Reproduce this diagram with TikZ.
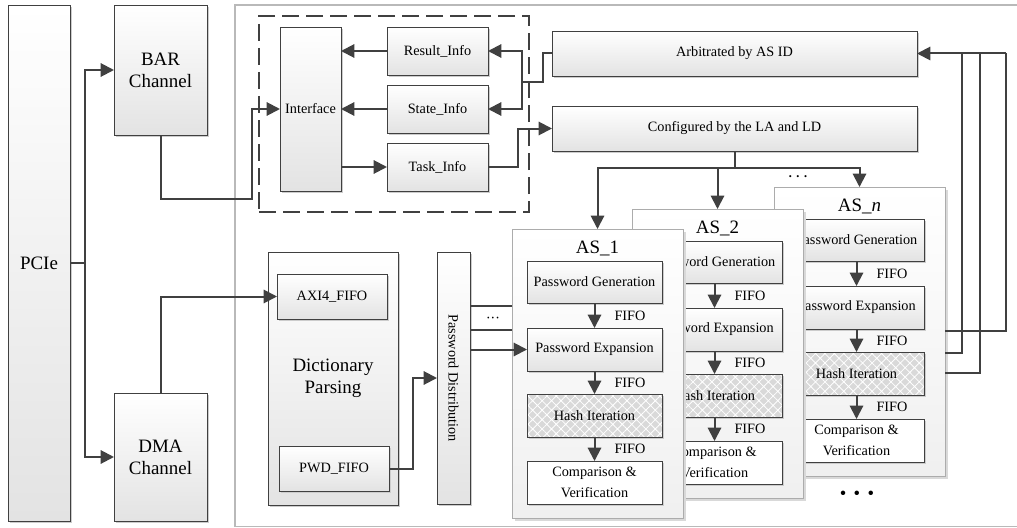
\documentclass[tikz,border=0pt]{standalone}
\usepackage{fontspec}
\setmainfont{Liberation Serif}
\usepackage{graphicx}
\usetikzlibrary{shadows,arrows.meta,patterns.meta}
\definecolor{dk}{RGB}{64,64,64}
\tikzset{
  rect/.style n args={4}{at={({((#1)+(#3))/2},{((#2)+(#4))/2})},minimum width={((#3)-(#1))*0.75pt},minimum height={((#4)-(#2))*0.75pt}},
  shd/.style={drop shadow={shadow xshift=1.5pt,shadow yshift=-1.5pt,fill=gray!40,opacity=1}},
  bx/.style={shd,draw=dk,line width=0.6pt,top color=white,bottom color=gray!22,inner sep=0pt,outer sep=0pt,align=center,text=black},
  wbx/.style={shd,draw=dk,line width=0.6pt,fill=white,inner sep=0pt,outer sep=0pt,align=center},
  hbx/.style={shd,draw=dk,line width=0.6pt,inner sep=0pt,outer sep=0pt,align=center,preaction={fill=gray!30},pattern={Hatch[angle=45,distance=5pt,line width=0.6pt]},pattern color=white},
  asb/.style={drop shadow={shadow xshift=2pt,shadow yshift=-2pt,fill=gray!30,opacity=1},draw=gray!65,line width=0.6pt,top color=white,bottom color=gray!12,inner sep=0pt,outer sep=0pt},
  big/.style={font=\fontsize{14.2}{16.5}\selectfont},
  sm/.style={font=\fontsize{10.7}{16}\selectfont},
  conn/.style={draw=dk,line width=1.5pt},
  arr/.style={conn,-{Triangle[length=10pt,width=10pt]}},
  lbl/.style={inner sep=0pt},
}
\newcommand\asunit[4]{%
 \node[asb,rect={512+#2}{229+#3}{683+#2}{518+#3}] (asf#1) {};
 \node[big,lbl] at ({597.5+#2},{248+#3}) {#4};
 \node[bx,sm,rect={527+#2}{261+#3}{662+#2}{303+#3}] (pg#1) {Password Generation};
 \node[bx,sm,rect={527+#2}{328+#3}{662+#2}{371+#3}] (pe#1) {Password Expansion};
 \node[hbx,sm,rect={527+#2}{394+#3}{662+#2}{437+#3}] (hi#1) {Hash Iteration};
 \node[wbx,sm,rect={527+#2}{461+#3}{662+#2}{504+#3}] (cv#1) {Comparison \&\\Verification};
 \draw[arr] (pg#1) -- (pe#1);
 \draw[arr] (pe#1) -- (hi#1);
 \draw[arr] (hi#1) -- (cv#1);
 \node[sm,lbl] at ({630+#2},{316+#3}) {FIFO};
 \node[sm,lbl] at ({630+#2},{383+#3}) {FIFO};
 \node[sm,lbl] at ({630+#2},{449+#3}) {FIFO};
}
\begin{document}
\begin{tikzpicture}[x=0.75pt,y=-0.75pt]
\useasboundingbox (0,0) rectangle (1017,528);
\clip (0,0) rectangle (1017,528);
\fill[white] (0,0) rectangle (1017,528);
\node[draw=gray!55,line width=0.8pt,inner sep=0pt,rect={235}{5}{1040}{526.5}] (fpga) {};
% left column
\node[bx,big,rect={8}{5}{70}{521}] (pcie) {PCIe};
\node[bx,big,rect={114}{5}{207}{135}] (bar) {BAR\\Channel};
\node[bx,big,rect={114}{393}{207}{521}] (dma) {DMA\\Channel};
% control block
\node[draw=dk,line width=1.5pt,dash pattern=on 13pt off 5pt,inner sep=0pt,rect={259}{16}{529}{212}] (ctl) {};
\node[bx,sm,rect={280}{27}{341}{191}] (iface) {Interface};
\node[bx,sm,rect={387}{27}{488}{75}] (res) {Result\_Info};
\node[bx,sm,rect={387}{85}{488}{133}] (state) {State\_Info};
\node[bx,sm,rect={387}{143}{488}{191}] (task) {Task\_Info};
\node[bx,sm,rect={552}{31}{917}{76}] (arb) {Arbitrated by AS ID};
\node[bx,sm,rect={552}{106}{917}{151}] (conf) {Configured by the LA and LD};
% dictionary
\node[bx,big,rect={268}{252}{398}{505}] (dp) {Dictionary\\Parsing};
\node[bx,sm,rect={277}{274}{387}{319}] (axi) {AXI4\_FIFO};
\node[bx,sm,rect={279}{446}{389}{491}] (pwd) {PWD\_FIFO};
\node[bx,sm,rect={437}{252}{470}{504}] (pd) {\rotatebox{-90}{Password Distribution}};
% AS units
\asunit{n}{262}{-42}{AS\_\textit{n}}
\asunit{2}{120}{-20}{AS\_2}
\asunit{1}{0}{0}{AS\_1}
% connectors
\coordinate (pj) at (85,263);
\draw[conn] (pcie.east) -- (pj);
\draw[arr] (pj) |- (bar);
\draw[arr] (pj) |- (dma);
\coordinate (bj) at (252,199);
\draw[arr] (bar.south) |- (bj) |- (iface);
\draw[arr] (dma.north) |- (axi);
\draw[arr] (res) -- (iface.east |- res);
\draw[arr] (state) -- (iface.east |- state);
\draw[arr] (iface.east |- task) -- (task);
\coordinate (aj) at (522,82);
\draw[conn] (arb.west) -- ++(-9,0) |- (aj);
\draw[arr] (aj) |- (res);
\draw[arr] (aj) |- (state);
\coordinate (tj) at (518,128.5);
\draw[arr] (task) -| (tj) -- (conf);
\coordinate (cj) at (734.5,168);
\draw[conn] (conf) -- (cj);
\draw[arr] (cj) -| (asf1);
\draw[arr] (cj) -| (asf2);
\draw[arr] (cj) -| (asfn);
\draw[conn] (pd.east |- 0,306) -- (asf1.west |- 0,306);
\draw[conn] (pd.east |- 0,330) -- (asf1.west |- 0,330);
\draw[arr] (pd.east |- pe1) -- (pe1);
\coordinate (wj) at (413,378);
\draw[arr] (pwd) -| (wj) -- (pd);
\coordinate (r1) at (1006,53.5);
\coordinate (r2) at (962,53.5);
\coordinate (r3) at (980,53.5);
\draw[conn] (asfn.east |- 0,331) -| (r1);
\draw[conn] (asfn.east |- 0,353) -| (r2);
\draw[conn] (asfn.east |- 0,373) -| (r3);
\draw[arr] (r1) -- (arb);
% ellipses
\node[lbl,font=\fontsize{6.5}{7}\selectfont] (d1) at (798,178) {\textbullet\hspace{3.5pt}\textbullet\hspace{3.5pt}\textbullet};
\node[lbl,font=\fontsize{14}{16}\selectfont] (d2) at (857,495) {\textbullet\hspace{5.5pt}\textbullet\hspace{5.5pt}\textbullet};
\node[lbl,font=\fontsize{5.5}{7}\selectfont] (d3) at (493,319) {\textbullet\hspace{1.5pt}\textbullet\hspace{1.5pt}\textbullet};
\end{tikzpicture}
\end{document}
